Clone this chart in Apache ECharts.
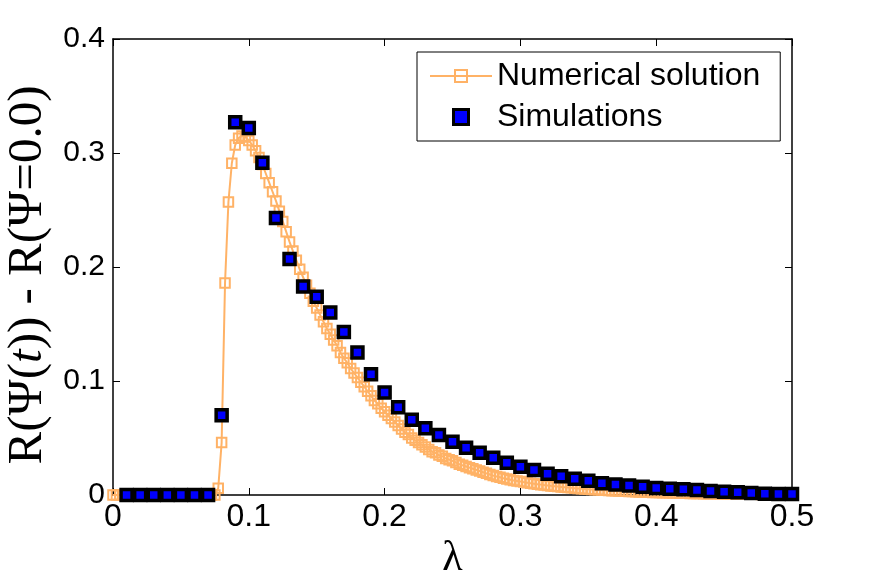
<!DOCTYPE html>
<html>
<head>
<meta charset="utf-8">
<script src="https://cdn.jsdelivr.net/npm/echarts@6/dist/echarts.min.js"></script>
<style>
html,body{margin:0;padding:0;background:#fff;}
#chart{width:873px;height:584px;}
</style>
</head>
<body>
<div id="chart"></div>
<script>
// ---- data ----
const xTicks = [0, 0.1, 0.2, 0.3, 0.4, 0.5];
const yTicks = [0, 0.1, 0.2, 0.3, 0.4];

const numLambda = [
  0, 0.0025, 0.005, 0.0075, 0.01, 0.0125, 0.015, 0.0175, 0.02, 0.0225, 0.025, 0.0275,
  0.03, 0.0325, 0.035, 0.0375, 0.04, 0.0425, 0.045, 0.0475, 0.05, 0.0525, 0.055, 0.0575,
  0.06, 0.0625, 0.065, 0.0675, 0.07, 0.0725, 0.075, 0.0775, 0.08, 0.0825, 0.085, 0.0875,
  0.09, 0.0925, 0.095, 0.0975, 0.1, 0.1025, 0.105, 0.1075, 0.11, 0.1125, 0.115, 0.1175,
  0.12, 0.1225, 0.125, 0.1275, 0.13, 0.1325, 0.135, 0.1375, 0.14, 0.1425, 0.145, 0.1475,
  0.15, 0.1525, 0.155, 0.1575, 0.16, 0.1625, 0.165, 0.1675, 0.17, 0.1725, 0.175, 0.1775,
  0.18, 0.1825, 0.185, 0.1875, 0.19, 0.1925, 0.195, 0.1975, 0.2, 0.2025, 0.205, 0.2075,
  0.21, 0.2125, 0.215, 0.2175, 0.22, 0.2225, 0.225, 0.2275, 0.23, 0.2325, 0.235, 0.2375,
  0.24, 0.2425, 0.245, 0.2475, 0.25, 0.2525, 0.255, 0.2575, 0.26, 0.2625, 0.265, 0.2675,
  0.27, 0.2725, 0.275, 0.2775, 0.28, 0.2825, 0.285, 0.2875, 0.29, 0.2925, 0.295, 0.2975,
  0.3, 0.3025, 0.305, 0.3075, 0.31, 0.3125, 0.315, 0.3175, 0.32, 0.3225, 0.325, 0.3275,
  0.33, 0.3325, 0.335, 0.3375, 0.34, 0.3425, 0.345, 0.3475, 0.35, 0.3525, 0.355, 0.3575,
  0.36, 0.3625, 0.365, 0.3675, 0.37, 0.3725, 0.375, 0.3775, 0.38, 0.3825, 0.385, 0.3875,
  0.39, 0.3925, 0.395, 0.3975, 0.4, 0.4025, 0.405, 0.4075, 0.41, 0.4125, 0.415, 0.4175,
  0.42, 0.4225, 0.425, 0.4275, 0.43, 0.4325, 0.435, 0.4375, 0.44, 0.4425, 0.445, 0.4475,
  0.45, 0.4525, 0.455, 0.4575, 0.46, 0.4625, 0.465, 0.4675, 0.47, 0.4725, 0.475, 0.4775,
  0.48, 0.4825, 0.485, 0.4875, 0.49, 0.4925, 0.495, 0.4975, 0.5
];
const numValues = [
  0, 0, 0, 0,  0, 0, 0, 0,  0, 0, 0, 0,  0, 0, 0, 0,  0, 0, 0, 0,  0, 0, 0, 0,
  0, 0, 0, 0,  0, 0, 0, 0.006,
  0.046, 0.186, 0.257, 0.291,
  0.307, 0.313, 0.315, 0.314,
  0.311, 0.307, 0.302, 0.296,
  0.290, 0.282, 0.274, 0.266,
  0.258, 0.249, 0.240, 0.231,
  0.222, 0.214, 0.206, 0.198,
  0.191, 0.184, 0.177, 0.170,
  0.164, 0.158, 0.152, 0.146,
  0.141, 0.136, 0.131, 0.125,
  0.120, 0.116, 0.111, 0.107,
  0.103, 0.099, 0.095, 0.091,
  0.087, 0.083, 0.080, 0.076,
  0.073, 0.070, 0.067, 0.064,
  0.061, 0.058, 0.055, 0.053,
  0.050, 0.048, 0.046, 0.044,
  0.042, 0.040, 0.038, 0.037,
  0.035, 0.034, 0.032, 0.031,
  0.030, 0.0285, 0.027, 0.026,
  0.025, 0.024, 0.023, 0.022,
  0.021, 0.020, 0.019, 0.018,
  0.017, 0.0162, 0.0155, 0.0147,
  0.014, 0.0134, 0.0128, 0.0123,
  0.0118, 0.0113, 0.0108, 0.0103,
  0.0099, 0.0095, 0.0091, 0.0087,
  0.0084, 0.0080, 0.0077, 0.0074,
  0.0071, 0.0068, 0.0065, 0.0063,
  0.0060, 0.0058, 0.0055, 0.0053,
  0.0051, 0.0049, 0.0047, 0.0045,
  0.0043, 0.0041, 0.0040, 0.0038,
  0.0037, 0.0035, 0.0034, 0.0032,
  0.0031, 0.0030, 0.0029, 0.0027,
  0.0026, 0.0025, 0.0024, 0.0023,
  0.0022, 0.0021, 0.0020, 0.0019,
  0.0019, 0.0018, 0.0017, 0.0016,
  0.0016, 0.0015, 0.0014, 0.0014,
  0.0013, 0.0013, 0.0012, 0.0012,
  0.0011, 0.0011, 0.0010, 0.0010,
  0.0009, 0.0009, 0.0008, 0.0008,
  0.0008, 0.0007, 0.0007, 0.0007,
  0.0006, 0.0006, 0.0006, 0.0005,
  0.0005, 0.0005, 0.0005, 0.0004,
  0.0004, 0.0004, 0.0004, 0.0003,
  0.0003
];

const simLambda = [
  0.01, 0.02, 0.03, 0.04, 0.05, 0.06, 0.07, 0.08, 0.09, 0.10,
  0.11, 0.12, 0.13, 0.14, 0.15, 0.16, 0.17, 0.18, 0.19, 0.20,
  0.21, 0.22, 0.23, 0.24, 0.25, 0.26, 0.27, 0.28, 0.29, 0.30,
  0.31, 0.32, 0.33, 0.34, 0.35, 0.36, 0.37, 0.38, 0.39, 0.40,
  0.41, 0.42, 0.43, 0.44, 0.45, 0.46, 0.47, 0.48, 0.49, 0.50
];
const simValues = [
  0, 0, 0, 0, 0, 0, 0, 0.070, 0.327, 0.322,
  0.2915, 0.243, 0.207, 0.183, 0.174, 0.160, 0.143, 0.125, 0.106, 0.090,
  0.077, 0.066, 0.0585, 0.0526, 0.0468, 0.0415, 0.0371, 0.0327, 0.0283, 0.0248,
  0.0219, 0.0187, 0.0164, 0.0143, 0.0125, 0.0104, 0.0092, 0.0083, 0.0073, 0.0062,
  0.0055, 0.0050, 0.0044, 0.0036, 0.0029, 0.0024, 0.0018, 0.0012, 0.0009, 0.0009
];

// ---- chart ----
const ORANGE = '#ffb266';
const sans = 'Liberation Sans, Arial, Helvetica, sans-serif';
const serif = 'Liberation Serif, Times New Roman, serif';

const numData = numLambda.map((x, i) => [x, numValues[i]]);
const simData = simLambda.map((x, i) => [x, simValues[i]]);

const frameLine = { show: true, onZero: false, lineStyle: { color: '#000', width: 1.5 } };
const tickIn = { show: true, inside: true, length: 7, lineStyle: { color: '#000', width: 1 } };

const chart = echarts.init(document.getElementById('chart'), null, { renderer: 'canvas' });
chart.setOption({
  animation: false,
  backgroundColor: '#fff',
  grid: { left: 113, right: 81, top: 39, bottom: 89, containLabel: false, outerBoundsMode: 'none' },
  xAxis: [
    {
      type: 'value', min: xTicks[0], max: xTicks[xTicks.length - 1], interval: 0.1,
      position: 'bottom',
      axisLine: frameLine, axisTick: tickIn, splitLine: { show: false },
      axisLabel: { show: true, margin: 6, color: '#000', fontFamily: sans, fontSize: 32,
        formatter: v => String(Math.round(v * 10) / 10) },
      name: 'λ', nameLocation: 'middle', nameGap: 32,
      nameTextStyle: { fontFamily: serif, fontSize: 42, color: '#000' }
    },
    {
      type: 'value', min: xTicks[0], max: xTicks[xTicks.length - 1], interval: 0.1,
      position: 'top',
      axisLine: frameLine, axisTick: tickIn, splitLine: { show: false },
      axisLabel: { show: false }
    }
  ],
  yAxis: [
    {
      type: 'value', min: yTicks[0], max: yTicks[yTicks.length - 1], interval: 0.1,
      position: 'left',
      axisLine: frameLine, axisTick: tickIn, splitLine: { show: false },
      axisLabel: { show: true, margin: 8, color: '#000', fontFamily: sans, fontSize: 30,
        formatter: v => String(Math.round(v * 10) / 10) },
      name: 'R(Ψ({i|t})) - R(Ψ=0.0)', nameLocation: 'middle', nameGap: 50, nameRotate: 90,
      nameTextStyle: { fontFamily: serif, fontSize: 49, color: '#000', padding: [0, 16, 0, 0],
        rich: { i: { fontFamily: serif, fontSize: 49, fontStyle: 'italic', color: '#000' } } }
    },
    {
      type: 'value', min: yTicks[0], max: yTicks[yTicks.length - 1], interval: 0.1,
      position: 'right',
      axisLine: frameLine, axisTick: tickIn, splitLine: { show: false },
      axisLabel: { show: false }
    }
  ],
  legend: {
    left: 417, top: 52, orient: 'vertical',
    padding: [8, 20, 8, 12], itemGap: 9, itemWidth: 62, itemHeight: 15,
    borderColor: '#000', borderWidth: 1, backgroundColor: '#fff',
    selectedMode: false,
    textStyle: { fontFamily: sans, fontSize: 32, color: '#000', lineHeight: 30 },
    data: [
      { name: 'Numerical solution', itemStyle: { borderWidth: 2 } },
      { name: 'Simulations', icon: 'path://M0,0L10,0L10,10L0,10Z', itemStyle: { borderWidth: 3 } }
    ]
  },
  series: [
    {
      name: 'Numerical solution', type: 'line', data: numData, clip: false, z: 3,
      xAxisIndex: 0, yAxisIndex: 0,
      symbol: 'rect', symbolSize: 9.5, showAllSymbol: true,
      lineStyle: { color: ORANGE, width: 2 },
      itemStyle: { color: 'rgba(0,0,0,0)', borderColor: ORANGE, borderWidth: 2 },
      emphasis: { disabled: true }
    },
    {
      name: 'Simulations', type: 'scatter', data: simData, clip: false, z: 4,
      xAxisIndex: 0, yAxisIndex: 0,
      symbol: 'rect', symbolSize: 11,
      itemStyle: { color: '#0000ff', borderColor: '#000', borderWidth: 3.5, opacity: 1 },
      emphasis: { disabled: true }
    }
  ]
});
</script>
</body>
</html>
